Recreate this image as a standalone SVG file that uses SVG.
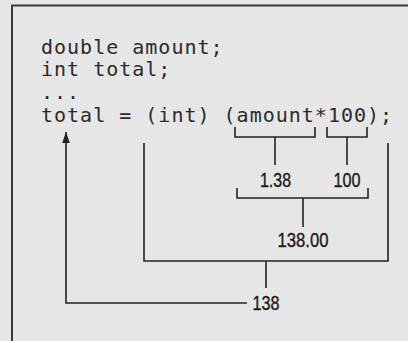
<svg xmlns="http://www.w3.org/2000/svg" width="408" height="341" viewBox="0 0 408 341">
<style>
.code{font-family:"DejaVu Sans Mono","Liberation Mono",monospace;font-size:20px;letter-spacing:1px;fill:#2a2a2a}
.num{font-family:"Liberation Sans",Arial,sans-serif;font-size:20px;fill:#1a1a1a;stroke:#1a1a1a;stroke-width:0.35;text-anchor:middle}
.ln{fill:none;stroke:#222;stroke-width:1.6}
.frame{fill:none;stroke:#3a3a3a;stroke-width:2}
</style>
<defs>
<marker id="ah" markerWidth="12" markerHeight="10" refX="11" refY="5" orient="auto" markerUnits="userSpaceOnUse" viewBox="0 0 12 10">
<path d="M0,1.2 L11,5 L0,8.8 Z" fill="#222"/>
</marker>
</defs>
<rect width="408" height="341" fill="#e6e6e6"/>
<path class="frame" d="M12,341 V5.5 H408"/>
<g id="code">
<text class="code" x="41" y="54">double amount;</text>
<text class="code" x="41" y="76">int total;</text>
<text class="code" x="41" y="99">...</text>
<text class="code" x="41" y="122">total = (int) (amount*100);</text>
</g>
<g id="connectors">
<path class="ln" d="M235,127 V137 H315 V127"/>
<path class="ln" d="M275,137 V165"/>
<path class="ln" d="M327,127 V137 H367 V127"/>
<path class="ln" d="M347,137 V165"/>
<path class="ln" d="M237,188 V198 H368 V188"/>
<path class="ln" d="M303,198 V227"/>
<path class="ln" d="M144,143 V261 H388 V143"/>
<path class="ln" d="M266,261 V288"/>
<path class="ln" d="M247,303 H66 V132" marker-end="url(#ah)"/>
</g>
<g id="n138_1"><text class="num" x="275.5" y="187" textLength="31" lengthAdjust="spacingAndGlyphs">1.38</text></g>
<g id="n100"><text class="num" x="347" y="187" textLength="27" lengthAdjust="spacingAndGlyphs">100</text></g>
<g id="n13800"><text class="num" x="303" y="247" textLength="51" lengthAdjust="spacingAndGlyphs">138.00</text></g>
<g id="n138"><text class="num" x="266" y="310" textLength="27" lengthAdjust="spacingAndGlyphs">138</text></g>
</svg>
